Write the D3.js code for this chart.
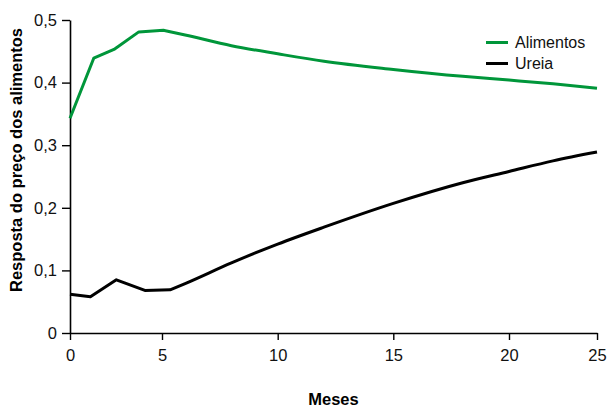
<!DOCTYPE html>
<html><head><meta charset="utf-8">
<script src="https://cdn.jsdelivr.net/npm/d3@7"></script>
<style>
html,body{margin:0;padding:0;background:#fff;}
text{font-family:"Liberation Sans",Arial,Helvetica,sans-serif;}
</style></head>
<body>
<svg id="chart" width="608" height="407"></svg>
<script>
// X tick labels (months) and y tick values
const xTicks = [0, 5, 10, 15, 20, 25];
const yTicks = [0, 0.1, 0.2, 0.3, 0.4, 0.5];

// Series: Alimentos (food price response)
const alimentosX = [0, 1.29, 2.39, 3.74, 5.06, 6, 8, 10, 12, 15, 18, 20, 22.5, 25];
const alimentosY = [0.343, 0.439, 0.453, 0.481, 0.4835, 0.476, 0.459, 0.446, 0.434, 0.421, 0.410, 0.404, 0.398, 0.391];

// Series: Ureia
const ureiaX = [0, 1.11, 2.52, 4.07, 5.35, 6, 8, 10, 12, 15, 18, 20, 22.5, 25];
const ureiaY = [0.062, 0.058, 0.085, 0.068, 0.069, 0.079, 0.112, 0.142, 0.169, 0.207, 0.240, 0.258, 0.275, 0.289];

const seriesNames = ["Alimentos", "Ureia"];
const seriesColors = ["#00963a", "#000000"];
const breakIndex = 4; // after this point the response path is smooth

const svg = d3.select("#chart");

// x axis in the original is unevenly spaced: polylinear scale through tick positions
const x = d3.scaleLinear().domain(xTicks).range([70, 162, 277.7, 393.3, 509, 597]);
const y = d3.scaleLinear().domain([0, 0.5]).range([333, 20]);

const fmt = d => d === 0 ? "0" : d3.format(".1f")(d).replace(".", ",");

const gx = svg.append("g").attr("transform", `translate(0,${y(0)})`)
  .call(d3.axisBottom(x).tickValues(xTicks).tickSize(7).tickSizeOuter(0).tickPadding(9).tickFormat(d3.format("d")));
const gy = svg.append("g").attr("transform", `translate(${x(0)},0)`)
  .call(d3.axisLeft(y).tickValues(yTicks).tickSize(8).tickSizeOuter(0).tickPadding(5).tickFormat(fmt));

[gx, gy].forEach(g => {
  g.selectAll("path.domain").attr("stroke", "#000").attr("stroke-width", 1.6);
  g.selectAll(".tick line").attr("stroke", "#000").attr("stroke-width", 1.4);
  g.selectAll(".tick text").attr("fill", "#111").style("font-size", "16.5px")
    .style("font-family", "'Liberation Sans', Arial, sans-serif");
});

const lineHead = d3.line().x(d => x(d[0])).y(d => y(d[1]));
const lineTail = d3.line().x(d => x(d[0])).y(d => y(d[1])).curve(d3.curveMonotoneX);
const data = [
  d3.zip(alimentosX, alimentosY),
  d3.zip(ureiaX, ureiaY)
];
data.forEach((pts, i) => {
  const d = lineHead(pts.slice(0, breakIndex + 1)) + lineTail(pts.slice(breakIndex)).replace(/^M[^LC]*/, "");
  svg.append("path").attr("d", d)
    .attr("fill", "none").attr("stroke", seriesColors[i])
    .attr("stroke-width", 3).attr("stroke-linejoin", "round");
});

// Legend
const leg = svg.append("g");
seriesNames.forEach((n, i) => {
  const yy = 42.5 + i * 21;
  leg.append("line").attr("x1", 486).attr("x2", 508).attr("y1", yy).attr("y2", yy)
    .attr("stroke", seriesColors[i]).attr("stroke-width", 3);
  leg.append("text").attr("x", 515).attr("y", yy + 5.5).text(n)
    .style("font-size", "16px").attr("fill", "#111");
});

// Axis titles
svg.append("text").attr("x", 333.5).attr("y", 405).attr("text-anchor", "middle")
  .style("font-size", "16.5px").style("font-weight", "bold").text("Meses");
svg.append("text").attr("transform", "translate(22,160) rotate(-90)").attr("text-anchor", "middle")
  .style("font-size", "16.5px").style("font-weight", "bold").text("Resposta do preço dos alimentos");
</script>
</body></html>
